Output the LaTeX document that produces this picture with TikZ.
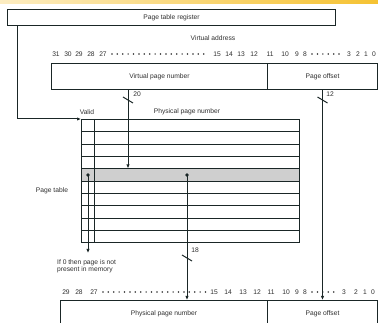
\documentclass[tikz,border=0pt]{standalone}
\usepackage{fontspec}
\setmainfont{Liberation Sans}
\usetikzlibrary{arrows.meta,positioning,calc}
\definecolor{ink}{HTML}{1A2626}
\definecolor{txt}{HTML}{2E2E2E}
\definecolor{rowgray}{HTML}{CFCFCF}
\definecolor{band}{HTML}{F5C232}

\begin{document}
\begin{tikzpicture}[
  x=1pt, y=-1pt,
  font=\fontsize{6.7}{7.8}\selectfont, text=txt,
  fld/.style={draw=ink, line width=1pt, minimum height=26pt, inner sep=0pt, anchor=north west},
  tabrow/.style={draw=ink, line width=1pt, minimum width=218pt, minimum height=12.35pt, inner sep=0pt, anchor=north west},
  lbl/.style={inner sep=0pt},
  arr/.style={-{Latex[length=4pt,width=3.4pt]}, draw=ink, line width=1pt},
  cut/.style={draw=ink, line width=1pt},
  dotrow/.style={draw=txt, line width=1.7pt, line cap=round, dash pattern=on 0pt off 5.4pt}
]
\useasboundingbox (0,0) rectangle (378,323);
\shade[left color=band!30, right color=band] (0,0) rectangle (378,4);

% registers and addresses
\node[fld, minimum width=328pt, minimum height=16pt] (ptr) at (7,9) {Page table register};
\node[lbl] (vaddr) at (213,38) {Virtual address};
\node[fld, minimum width=216pt] (vpn) at (51,63) {Virtual page number};
\node[fld, minimum width=110pt] (voff) at (267,63) {Page offset};
\node[fld, minimum width=207pt] (ppn) at (60,300) {Physical page number};
\node[fld, minimum width=110pt] (poff) at (267,300) {Page offset};

% bit numbers
\foreach \x/\b in {56/31,68/30,79/29,91/28,103/27,217/15,229/14,241/13,254/12,270/11,285/10,297/9,305/8,349/3,358/2,366/1,374/0}
  \node[lbl] (vb\b) at (\x,54) {\b};
\foreach \x/\b in {66/29,79/28,94/27,214/15,228/14,243/13,257/12,271/11,286/10,297/9,305/8,344/3,356/2,365/1,373/0}
  \node[lbl] (pb\b) at (\x,292) {\b};
\draw[dotrow] (vb27.east) ++(5,0) -- ($(vb15.west)+(-4,0)$);
\draw[dotrow] (vb8.east) ++(5,0) -- ($(vb3.west)+(-3,0)$);
\draw[dotrow] (pb27.east) ++(5,0) -- ($(pb15.west)+(-4,0)$);
\draw[dotrow] (pb8.east) ++(5,0) -- ($(pb3.west)+(-3,0)$);

% page table
\foreach \i in {1,...,10}
  \node[tabrow] (row\i) at (81,{119+(\i-1)*12.35}) {};
\node[tabrow, fill=rowgray] (row5) at (81,{119+4*12.35}) {};
\draw[cut] ($(row1.north west)+(13,0)$) -- ($(row10.south west)+(13,0)$);
\node[lbl] (valid) at (87,112) {Valid};
\node[lbl] (ppnhead) at (187,112) {Physical page number};
\node[lbl] (ptab) at (52,191) {Page table};
\coordinate (vbit) at ($(row5.west)+(7,0)$);
\coordinate (pbit) at ($(row5.west)+(106,0)$);
\fill[ink] (vbit) circle (1.9pt);
\fill[ink] (pbit) circle (1.9pt);
\node[lbl, anchor=north west, align=left] (note) at (57,259) {If 0 then page is not\\present in memory};

% connectors
\coordinate (vpnbus) at ($(vpn.south west)+(77,0)$);
\draw[arr] ($(ptr.south west)+(10,0)$) |- (row1.north west);
\draw[arr] (vpnbus) -- (vpnbus |- row5.north);
\draw[arr] (voff.south) -- (poff.north);
\draw[arr] (vbit) -- ($(vbit |- note.north)+(0,-6)$);
\draw[arr] (pbit) -- (pbit |- ppn.north);

% bus widths
\draw[cut] ($(vpnbus)+(-5,7)$) -- ++(10,6);
\node[lbl] (w20) at (137,94) {20};
\draw[cut] ($(voff.south)+(-5,7)$) -- ++(10,6);
\node[lbl] (w12) at (330,94) {12};
\draw[cut] ($(pbit |- ppn.north)+(-5,-45)$) -- ++(10,6);
\node[lbl] (w18) at (195,250) {18};
\end{tikzpicture}
\end{document}
